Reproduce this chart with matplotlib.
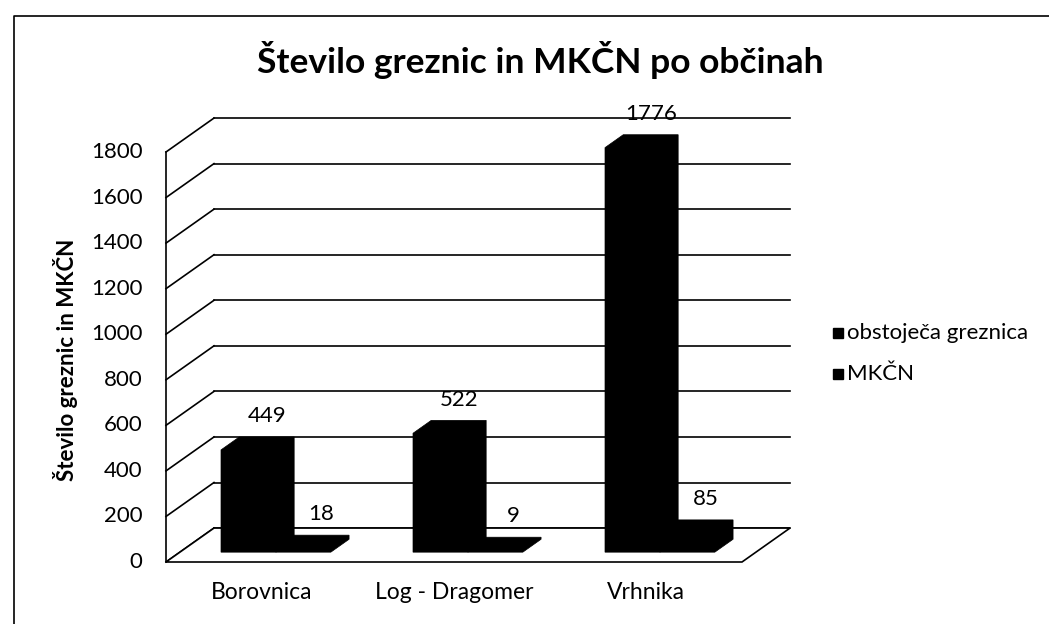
import numpy as np
import matplotlib; matplotlib.use("Agg")
import matplotlib.pyplot as plt
from matplotlib.patches import Polygon, Rectangle

plt.rcParams['font.family'] = ['Lato', 'DejaVu Sans']

# data
categories = ["Borovnica", "Log - Dragomer", "Vrhnika"]
series_names = ["obstoječa greznica", "MKČN"]
greznice = [449, 522, 1776]
mkcn = [18, 9, 85]
yticks = list(range(0, 1801, 200))

# 3D look (category units / value units)
DX, DY = 0.25, 149          # full floor depth offset
F0, F1 = 0.29, 0.67          # bar front / back depth fraction
BW = 0.286                   # bar width per series
FS = 16

W, H = 1049, 624
fig = plt.figure(figsize=(W / 100, H / 100), dpi=100)
ax = fig.add_axes([0, 0, 1, 1])
ax.set_xlim(-166 / 192, (W - 166) / 192)
ax.set_ylim((562 - H) / 0.22778, 562 / 0.22778)
ax.axis("off")

LW = 1.2
# floor
floor = Polygon([(0, 0), (3, 0), (3 + DX, DY), (DX, DY)], closed=True,
                facecolor="white", edgecolor="black", lw=LW, zorder=2)
ax.add_patch(floor)
# back wall gridlines and left wall
for v in yticks:
    ax.plot([DX, 3 + DX], [v + DY, v + DY], color="black", lw=LW, zorder=1)
    ax.plot([0, DX], [v, v + DY], color="black", lw=LW, zorder=1)
    ax.annotate(str(v), (0, v), xytext=(-17, 0), textcoords="offset points",
                ha="right", va="center", fontsize=FS)
ax.plot([0, 0], [0, 1800], color="black", lw=LW, zorder=1)


def bar(x0, x1, h):
    fx, fy = F0 * DX, F0 * DY
    bx, by = F1 * DX, F1 * DY
    pts = [(x0 + fx, fy), (x1 + fx, fy), (x1 + bx, by), (x1 + bx, h + by),
           (x0 + bx, h + by), (x0 + fx, h + fy)]
    ax.add_patch(Polygon(pts, closed=True, facecolor="black",
                         edgecolor="black", lw=0.5, zorder=3))
    ax.annotate(str(h), ((x0 + x1) / 2 + bx, h + by), xytext=(0, 15),
                textcoords="offset points", ha="center", va="center",
                fontsize=FS, zorder=4)


for i, cat in enumerate(categories):
    c = i + 0.5
    bar(c - BW, c, greznice[i])
    bar(c, c + BW, mkcn[i])
    ax.annotate(cat, (c, 0), xytext=(0, -22), textcoords="offset points",
                ha="center", va="center", fontsize=FS + 0.5)

# title, axis label
fig.text(540 / W, 1 - 60 / H, "Število greznic in MKČN po občinah",
         ha="center", va="center", fontsize=25.5, fontweight="bold")
fig.text(66 / W, 1 - 360 / H, "Število greznic in MKČN", rotation=90,
         ha="center", va="center", fontsize=FS, fontweight="bold")

# legend
for j, name in enumerate(series_names):
    yc = 1 - (333 + 41 * j) / H
    fig.patches.append(Rectangle((833 / W, yc - 5 / H), 10 / W, 10 / H,
                                 transform=fig.transFigure,
                                 facecolor="black", edgecolor="black"))
    fig.text(847 / W, yc, name, ha="left", va="center", fontsize=FS)

# chart border
fig.add_artist(plt.Line2D([14 / W, 14 / W, 1.0], [0.0, 1 - 16 / H, 1 - 16 / H],
                          transform=fig.transFigure, color="black", lw=1.2))

fig.savefig("out.png", dpi=100)
